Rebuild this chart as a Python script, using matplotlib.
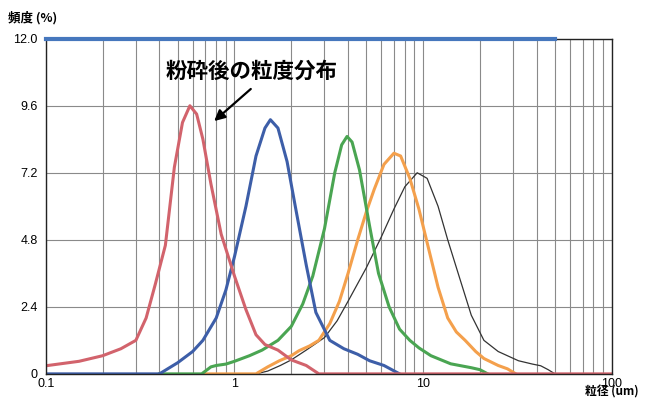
import matplotlib.pyplot as plt
from matplotlib.ticker import FixedLocator, NullFormatter

plt.rcParams['font.family'] = ['Liberation Sans', 'Noto Sans CJK JP', 'DejaVu Sans']

# particle size (um) vs frequency (%)
red_x = [0.1, 0.15, 0.2, 0.25, 0.3, 0.34, 0.38, 0.43, 0.48, 0.53, 0.58, 0.63, 0.68, 0.75,
         0.85, 1.0, 1.15, 1.3, 1.45, 1.7, 2.0, 2.4, 2.8, 100]
red_y = [0.29, 0.45, 0.65, 0.9, 1.2, 2.0, 3.2, 4.6, 7.4, 9.0, 9.6, 9.3, 8.4, 6.8,
         5.0, 3.5, 2.3, 1.4, 1.05, 0.85, 0.5, 0.3, 0.0, 0.0]

blue_x = [0.1, 0.4, 0.5, 0.6, 0.68, 0.8, 0.9, 1.0, 1.15, 1.3, 1.45, 1.55, 1.7, 1.9, 2.1,
          2.4, 2.7, 3.2, 3.8, 4.5, 5.2, 6.2, 7.5]
blue_y = [0.0, 0.0, 0.4, 0.8, 1.2, 2.0, 3.0, 4.2, 6.0, 7.8, 8.8, 9.1, 8.8, 7.6, 6.0,
          3.9, 2.2, 1.2, 0.9, 0.7, 0.47, 0.3, 0.0]

green_x = [0.4, 0.67, 0.75, 0.8, 0.9, 1.0, 1.2, 1.4, 1.7, 2.0, 2.3, 2.6, 3.0, 3.4, 3.7,
           3.95, 4.2, 4.6, 5.2, 5.8, 6.6, 7.5, 8.5, 9.5, 11, 14, 18, 20, 22]
green_y = [0.0, 0.0, 0.25, 0.3, 0.35, 0.45, 0.65, 0.85, 1.2, 1.7, 2.5, 3.5, 5.2, 7.2, 8.2,
           8.5, 8.3, 7.3, 5.3, 3.6, 2.4, 1.6, 1.2, 0.93, 0.65, 0.36, 0.22, 0.15, 0.0]

orange_x = [0.7, 1.3, 1.5, 1.73, 2.0, 2.2, 2.5, 2.8, 3.2, 3.6, 4.0, 4.5, 5.0, 5.5, 6.2,
            7.0, 7.6, 8.5, 9.5, 10.5, 12, 13.5, 15, 16.7, 19, 21, 25, 28, 31]
orange_y = [0.0, 0.0, 0.25, 0.47, 0.65, 0.83, 1.0, 1.2, 1.8, 2.6, 3.6, 4.8, 5.8, 6.6, 7.5,
            7.9, 7.8, 7.0, 5.9, 4.7, 3.1, 2.0, 1.5, 1.2, 0.8, 0.55, 0.3, 0.18, 0.0]

black_x = [1.3, 1.5, 1.75, 2.0, 2.4, 3.0, 3.5, 4.0, 5.0, 6.0, 7.0, 8.0, 9.3, 10.5, 12,
           13.5, 15.5, 18, 21, 25, 32, 38, 42, 46, 50]
black_y = [0.0, 0.1, 0.3, 0.5, 0.85, 1.3, 1.9, 2.6, 3.8, 4.9, 5.9, 6.7, 7.2, 7.0, 6.0,
           4.8, 3.5, 2.1, 1.2, 0.8, 0.47, 0.35, 0.29, 0.15, 0.0]

top_x = [0.1, 50]
top_y = [12.0, 12.0]

y_ticks = [0, 2.4, 4.8, 7.2, 9.6, 12.0]
y_labels = ["0", "2.4", "4.8", "7.2", "9.6", "12.0"]
x_ticks = [0.1, 1, 10, 100]
x_labels = ["0.1", "1", "10", "100"]


def main():
    fig = plt.figure(figsize=(6.46, 3.99), dpi=100)
    ax = fig.add_axes([0.071, 0.063, 0.876, 0.84])

    ax.set_xscale("log")
    ax.set_xlim(0.1, 100)
    ax.set_ylim(0, 12.0)

    # grid: every log minor step, horizontal every 2.4
    minors = [m * 10 ** e for e in (-1, 0, 1) for m in range(2, 10)] + [1, 10]
    ax.xaxis.set_major_locator(FixedLocator(x_ticks))
    ax.xaxis.set_minor_locator(FixedLocator(minors))
    ax.xaxis.set_minor_formatter(NullFormatter())
    ax.set_xticklabels(x_labels)
    ax.set_yticks(y_ticks)
    ax.set_yticklabels(y_labels)
    ax.grid(which="both", axis="x", color="#8a8a8a", linewidth=0.8)
    ax.grid(which="major", axis="y", color="#8a8a8a", linewidth=0.8)
    ax.tick_params(which="both", length=0, labelsize=9)
    ax.tick_params(axis="x", pad=3)
    ax.tick_params(axis="y", pad=6)

    ax.plot(black_x, black_y, color="#333333", linewidth=0.9)
    ax.plot(orange_x, orange_y, color="#f4a04c", linewidth=2.2)
    ax.plot(green_x, green_y, color="#4aa552", linewidth=2.2)
    ax.plot(blue_x, blue_y, color="#3d5ea8", linewidth=2.2)
    ax.plot(red_x, red_y, color="#d2636c", linewidth=2.2)
    ax.plot(top_x, top_y, color="#4677bd", linewidth=3.0, clip_on=False, zorder=5)

    for s in ax.spines.values():
        s.set_color("#222222")
        s.set_linewidth(1.0)

    # label and arrow
    ax.text(1.23, 10.85, "粉砕後の粒度分布", ha="center", va="center",
            fontsize=15.5, fontweight="bold", family=["Noto Sans CJK JP"])
    ax.annotate("", xy=(0.78, 9.05), xytext=(1.22, 10.2),
                arrowprops=dict(arrowstyle="-|>", color="black", lw=1.6,
                                mutation_scale=16, shrinkA=0, shrinkB=0))

    fig.text(0.012, 0.955, "頻度 (%)", fontsize=9, fontweight="bold",
             family=["Noto Sans CJK JP"], va="center")
    fig.text(0.905, 0.002, "粒径 (um)", fontsize=8.5, fontweight="bold",
             family=["Noto Sans CJK JP"], va="bottom")

    plt.savefig("out.png", dpi=100)


if __name__ == "__main__":
    main()
